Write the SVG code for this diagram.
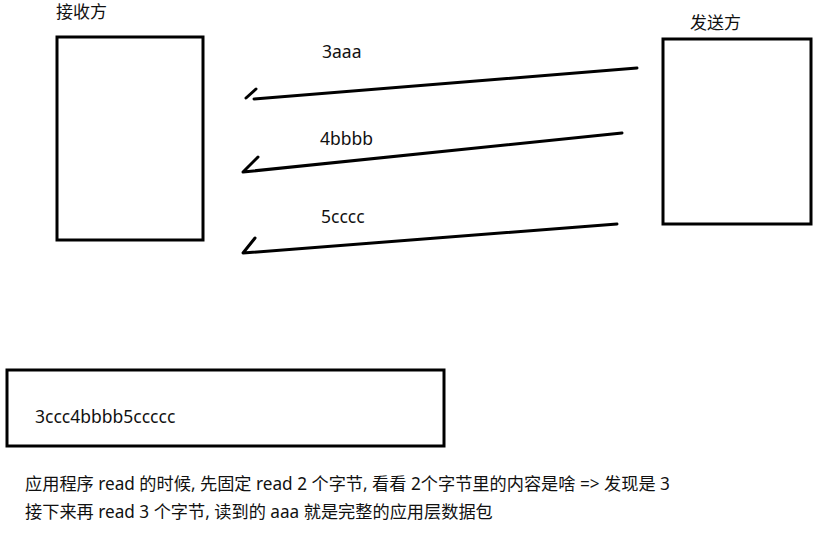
<svg xmlns="http://www.w3.org/2000/svg" width="823" height="536" viewBox="0 0 823 536">
<style>
.box{fill:#fff;stroke:#000;stroke-width:3}
.ln{fill:none;stroke:#000;stroke-width:3;stroke-linecap:round;stroke-linejoin:round}
text{font-family:"Noto Sans","Noto Sans CJK SC",sans-serif;fill:#111}
.lbl{font-size:17.5px}
.ttl{font-size:17px}
.note{font-size:17.2px}
</style>
<rect width="823" height="536" fill="#fff"/>
<g id="receiver">
<rect class="box" x="57" y="37" width="146" height="203"/>
<text class="ttl" x="56" y="18">接收方</text>
</g>
<g id="sender">
<rect class="box" x="663" y="39" width="148" height="185"/>
<text class="ttl" x="690" y="29">发送方</text>
</g>
<g id="connectors">
<path class="ln" d="M637,68 L254,99"/>
<path class="ln" d="M246,98 L256,89"/>
<path class="ln" d="M622,133 L243,172 L258,157"/>
<path class="ln" d="M617,224 L243,253 L255,238"/>
<text class="lbl" x="322" y="58">3aaa</text>
<text class="lbl" x="320" y="145">4bbbb</text>
<text class="lbl" x="321" y="223">5cccc</text>
</g>
<g id="buffer">
<rect class="box" x="7" y="370" width="437" height="76"/>
<text class="lbl" x="35" y="423">3ccc4bbbb5ccccc</text>
</g>
<g id="note">
<text class="note" x="25" y="490">应用程序 read 的时候, 先固定 read 2 个字节, 看看 2个字节里的内容是啥 =&gt; 发现是 3</text>
<text class="note" x="25" y="518">接下来再 read 3 个字节, 读到的 aaa 就是完整的应用层数据包</text>
</g>
</svg>
